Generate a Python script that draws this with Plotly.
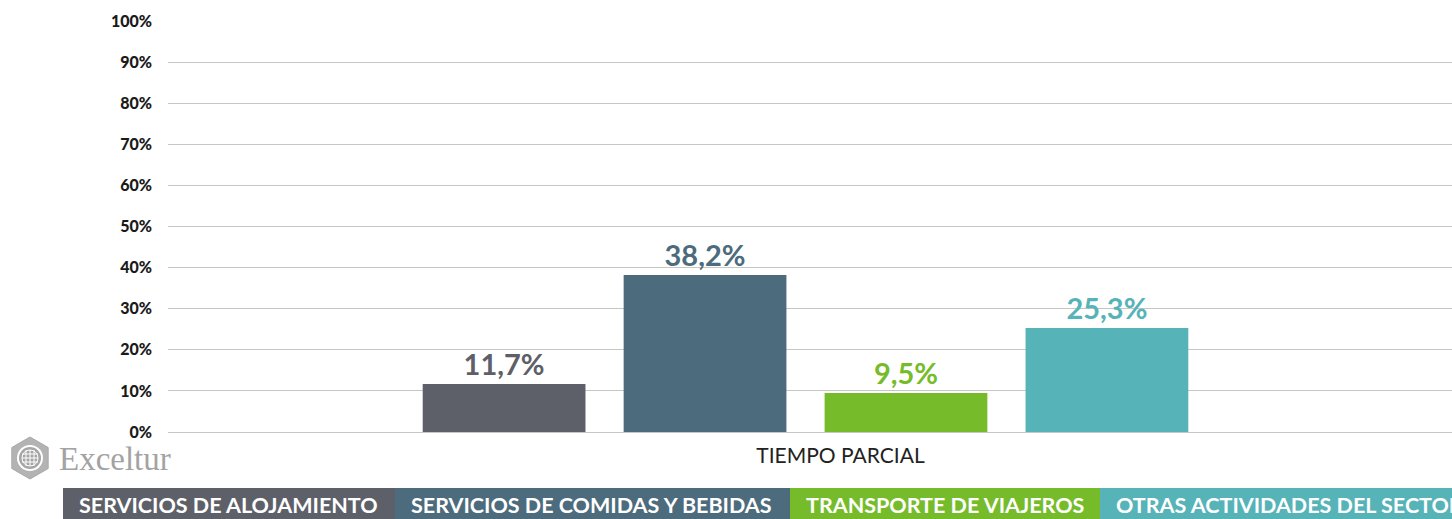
import math
import plotly.graph_objects as go

# ---- data ----
categories = ["TIEMPO PARCIAL"]
series_names = ["SERVICIOS DE ALOJAMIENTO", "SERVICIOS DE COMIDAS Y BEBIDAS",
                "TRANSPORTE DE VIAJEROS", "OTRAS ACTIVIDADES DEL SECTOR"]
series_values = [11.7, 38.2, 9.5, 25.3]
value_labels = ["11,7%", "38,2%", "9,5%", "25,3%"]
y_ticks = [0, 10, 20, 30, 40, 50, 60, 70, 80, 90, 100]
y_tick_labels = [f"{t}%" for t in y_ticks]

# ---- style ----
colors = ["#5e6069", "#4c6b7d", "#76bc2a", "#56b3b8"]
W, H = 1452, 519
L, R, T, B = 168, 0, 21, 87
PW, PH = W - L - R, H - T - B
GRID = "#c6c6c2"
FONT = "Lato"


def X(px):
    return (px - L) / PW


def Y(py):
    return (H - B - py) / PH


fig = go.Figure()
for name, val, lab, col in zip(series_names, series_values, value_labels, colors):
    fig.add_trace(go.Bar(
        x=categories, y=[val], name=name, marker_color=col, marker_line_width=0,
        text=[lab], textposition="outside", cliponaxis=False,
        textfont=dict(family=FONT, size=29, color=col, weight=700),
        showlegend=False,
    ))

shapes = []
annotations = []

# legend bands at bottom
edges = [63, 395, 790, 1100, 1460]
for i, (name, col) in enumerate(zip(series_names, colors)):
    shapes.append(dict(type="rect", xref="paper", yref="paper",
                       x0=X(edges[i]), x1=X(edges[i + 1]), y0=Y(H + 2), y1=Y(488),
                       fillcolor=col, line_width=0, layer="above"))
    annotations.append(dict(xref="paper", yref="paper", x=X(edges[i] + 14), y=Y(505),
                            xanchor="left", yanchor="middle", showarrow=False,
                            text=name, font=dict(family=FONT, size=21.5, color="white", weight=700)))

# logo: hexagon + globe + wordmark
cx, cy, r = 30, 458, 21
pts = [(cx + r * math.sin(math.radians(a)), cy - r * math.cos(math.radians(a))) for a in range(0, 360, 60)]
path = "M " + " L ".join(f"{X(px)},{Y(py)}" for px, py in pts) + " Z"
shapes.append(dict(type="path", xref="paper", yref="paper", path=path,
                   fillcolor="#b3b3b3", line=dict(color="#a8a8a8", width=1)))
for rad, col in [(13, "white"), (11, "#a6a6a6")]:
    shapes.append(dict(type="circle", xref="paper", yref="paper",
                       x0=X(cx - rad), x1=X(cx + rad), y0=Y(cy + rad), y1=Y(cy - rad),
                       fillcolor=col, line_width=0))
shapes.append(dict(type="circle", xref="paper", yref="paper",
                   x0=X(cx - 8), x1=X(cx + 8), y0=Y(cy + 8), y1=Y(cy - 8),
                   line=dict(color="white", width=1)))
for dx in [-4, 0, 4]:
    shapes.append(dict(type="line", xref="paper", yref="paper",
                       x0=X(cx + dx), x1=X(cx + dx), y0=Y(cy + 8), y1=Y(cy - 8),
                       line=dict(color="white", width=1)))
for dy in [-4, 0, 4]:
    shapes.append(dict(type="line", xref="paper", yref="paper",
                       x0=X(cx - 8), x1=X(cx + 8), y0=Y(cy + dy), y1=Y(cy + dy),
                       line=dict(color="white", width=1)))
annotations.append(dict(xref="paper", yref="paper", x=X(57), y=Y(459),
                        xanchor="left", yanchor="middle", showarrow=False,
                        text="Exceltur",
                        font=dict(family="Liberation Serif", size=33, color="#a3a3a3")))

fig.update_layout(
    width=W, height=H,
    margin=dict(l=L, r=R, t=T, b=B, pad=0),
    paper_bgcolor="white", plot_bgcolor="white",
    barmode="group", bargap=0.374, bargroupgap=0.19,
    shapes=shapes, annotations=annotations,
    xaxis=dict(range=[-0.4965, 0.5035], showgrid=False, showline=True,
               linecolor=GRID, linewidth=1, ticks="",
               tickfont=dict(family=FONT, size=21, color="#222222"),
               ticklabelstandoff=5, ticklabelshift=35, fixedrange=True),
    yaxis=dict(range=[0, 100], tickvals=y_ticks, ticktext=y_tick_labels,
               showgrid=True, gridcolor=GRID, gridwidth=1, zeroline=False,
               tickfont=dict(family=FONT, size=16, color="#1a1a1a", weight=900),
               ticklabelstandoff=15, fixedrange=True),
    font=dict(family=FONT),
)

fig.write_html("out.html", config={"displayModeBar": False},
               post_script="document.body.style.margin='0';document.body.style.overflow='hidden';")
